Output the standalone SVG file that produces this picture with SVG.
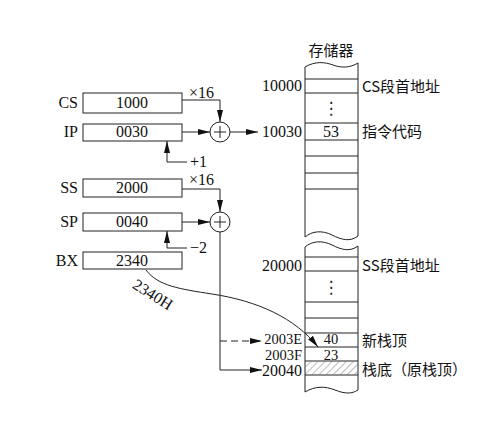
<svg xmlns="http://www.w3.org/2000/svg" width="499" height="431" viewBox="0 0 499 431">
<style>
.t{font-family:"Liberation Serif","Times New Roman",serif;font-size:16px;fill:#111}
.s{font-size:14.5px}
.c{font-family:"Noto Sans CJK SC","Liberation Serif",sans-serif;font-size:15px;fill:#111}
.e{text-anchor:end}
.m{text-anchor:middle}
.box{fill:#fff;stroke:#222;stroke-width:1}
.ln{fill:none;stroke:#222;stroke-width:1}
.dots{font-family:"DejaVu Sans",sans-serif;font-size:17px;fill:#222;text-anchor:middle}
</style>
<defs>
<marker id="ah" viewBox="0 0 12 6" refX="12" refY="3" markerWidth="12" markerHeight="6" markerUnits="userSpaceOnUse" orient="auto">
<path d="M0,0 L12,3 L0,6 Z" fill="#111"/>
</marker>
<pattern id="hatch" width="5" height="5" patternUnits="userSpaceOnUse" patternTransform="rotate(45)">
<line x1="0" y1="0" x2="0" y2="5" stroke="#555" stroke-width="0.8"/>
</pattern>
</defs>
<rect width="499" height="431" fill="#fff"/>

<g id="reg-cs">
<text class="t e" x="78" y="108">CS</text>
<rect class="box" x="83" y="93" width="99" height="20"/>
<text class="t m" x="132" y="108">1000</text>
</g>
<g id="reg-ip">
<text class="t e" x="78" y="137">IP</text>
<rect class="box" x="83" y="124" width="99" height="17"/>
<text class="t m" x="132" y="137">0030</text>
</g>
<g id="reg-ss">
<text class="t e" x="78" y="193">SS</text>
<rect class="box" x="83" y="179" width="99" height="18"/>
<text class="t m" x="132" y="193">2000</text>
</g>
<g id="reg-sp">
<text class="t e" x="78" y="227">SP</text>
<rect class="box" x="83" y="213" width="99" height="18"/>
<text class="t m" x="132" y="227">0040</text>
</g>
<g id="reg-bx">
<text class="t e" x="78" y="266">BX</text>
<rect class="box" x="83" y="252" width="99" height="17"/>
<text class="t m" x="132" y="266">2340</text>
</g>

<g id="adder1">
<circle class="ln" cx="220" cy="132" r="10"/>
<path class="ln" d="M214,132 H226 M220,126 V138" stroke="#444"/>
</g>
<g id="adder2">
<circle class="ln" cx="220" cy="222" r="10"/>
<path class="ln" d="M214,222 H226 M220,216 V228" stroke="#444"/>
</g>

<g id="memory">
<text class="c m" x="331" y="56">存储器</text>
<path class="ln" d="M305,67 C315,61 325,62 333,65 S350,68 358,63"/>
<path class="ln" d="M305,67 V237 M358,63 V236"/>
<path class="ln" d="M305,237 C312,231 322,230 332,235 S350,242 358,236"/>
<path class="ln" d="M305,247 C312,241 322,240 332,245 S350,252 358,246"/>
<path class="ln" d="M305,247 V392 M358,246 V390"/>
<path class="ln" d="M305,392 C315,386 325,386 335,390 S352,394 358,390"/>
<path class="ln" d="M305,79 H358 M305,93 H358 M305,123 H358 M305,140 H358 M305,156 H358 M305,173 H358 M305,189 H358"/>
<path class="ln" d="M305,257 H358 M305,271 H358 M305,302 H358 M305,318 H358 M305,333 H358 M305,347 H358 M305,361 H358 M305,375 H358"/>
<rect x="305.5" y="361.5" width="52" height="13" fill="url(#hatch)"/>
<text class="dots" x="331" y="114">⋮</text>
<text class="dots" x="331" y="293">⋮</text>
<text class="t m" x="331" y="137">53</text>
<text class="t s m" x="331" y="344">40</text>
<text class="t s m" x="331" y="360">23</text>
<text class="t e" x="302" y="91">10000</text>
<text class="t e" x="302" y="137">10030</text>
<text class="t e" x="302" y="271">20000</text>
<text class="t s e" x="302" y="344">2003E</text>
<text class="t s e" x="302" y="360">2003F</text>
<text class="t e" x="302" y="376">20040</text>
<text class="c" x="362" y="92">CS段首地址</text>
<text class="c" x="362" y="137">指令代码</text>
<text class="c" x="362" y="271">SS段首地址</text>
<text class="c" x="362" y="346">新栈顶</text>
<text class="c" x="362" y="375">栈底（原栈顶）</text>
</g>

<g id="connectors">
<path class="ln" d="M182,100 H220 V122" marker-end="url(#ah)"/>
<text class="t" x="189" y="98">×16</text>
<path class="ln" d="M182,132 H210" marker-end="url(#ah)"/>
<path class="ln" d="M230,132 H258" marker-end="url(#ah)"/>
<path class="ln" d="M187,162 H167 V141" marker-end="url(#ah)"/>
<text class="t" x="190" y="167">+1</text>
<path class="ln" d="M182,189 H220 V212" marker-end="url(#ah)"/>
<text class="t" x="189" y="185">×16</text>
<path class="ln" d="M182,222 H210" marker-end="url(#ah)"/>
<path class="ln" d="M187,248 H167 V231" marker-end="url(#ah)"/>
<text class="t" x="190" y="253">−2</text>
<path class="ln" d="M220,232 V370 H262" marker-end="url(#ah)"/>
<path class="ln" d="M220,341 H262" stroke-dasharray="7,4" marker-end="url(#ah)"/>
<path class="ln" d="M146,270 C158,286 180,289 212,294 C258,301 295,318 318,347" marker-end="url(#ah)"/>
<text class="t m" transform="translate(150,299) rotate(32)">2340H</text>
</g>
</svg>
